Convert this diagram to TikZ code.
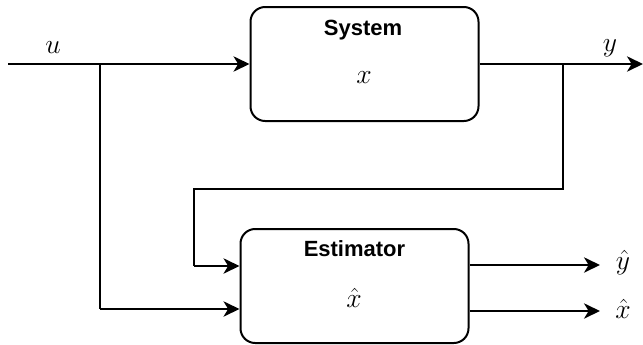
\documentclass[tikz,border=0pt]{standalone}
\usepackage{fontspec}
\newfontfamily\titlefont{Liberation Sans}
\usetikzlibrary{arrows.meta}
\begin{document}
\begin{tikzpicture}[x=0.75pt,y=-0.75pt,
  line width=1.5pt,
  blockbox/.style={draw, rounded corners=11pt, minimum width=171pt, minimum height=85.5pt, inner sep=0pt},
  title/.style={font=\titlefont\bfseries\fontsize{16.5}{19}\selectfont},
  mathlbl/.style={font=\fontsize{21.5}{24}\selectfont, inner sep=0pt},
  arr/.style={-{Stealth[length=12pt,width=11.5pt,inset=3.5pt]}}]
\useasboundingbox (0,0) rectangle (643,344);
\node[blockbox] (sys) at (364.5,64) {};
\node[blockbox] (est) at (354.5,286) {};
\node[title] (systitle) at (363,30) {System};
\node[mathlbl] (sysx) at (364,78) {$x$};
\node[title] (esttitle) at (354.5,249) {Estimator};
\node[mathlbl] (estx) at (354,298) {$\hat{x}$};
\node[mathlbl] (ulbl) at (53,48) {$u$};
\node[mathlbl] (ylbl) at (610,48) {$y$};
\node[mathlbl] (yhat) at (623,263) {$\hat{y}$};
\node[mathlbl] (xhat) at (623,309) {$\hat{x}$};
\coordinate (in) at (8,64);
\coordinate (ubr) at (100,64);
\coordinate (ybr) at (563,64);
\coordinate (yend) at (643,64);
\coordinate (fbtop) at (563,189);
\coordinate (fbleft) at (194,189);
\coordinate (fbin) at (194,266);
\coordinate (ubot) at (100,309);
\coordinate (yhend) at (600,265);
\coordinate (xhend) at (600,311);
\draw[arr] (in) -- (sys.west);
\draw[arr] (sys.east) -- (yend);
\draw (ubr) -- (ubot);
\draw[arr] (ubot) -- (ubot -| est.west);
\draw (ybr) -- (fbtop) -- (fbleft) -- (fbin);
\draw[arr] (fbin) -- (fbin -| est.west);
\draw[arr] (yhend -| est.east) -- (yhend);
\draw[arr] (xhend -| est.east) -- (xhend);
\end{tikzpicture}
\end{document}
